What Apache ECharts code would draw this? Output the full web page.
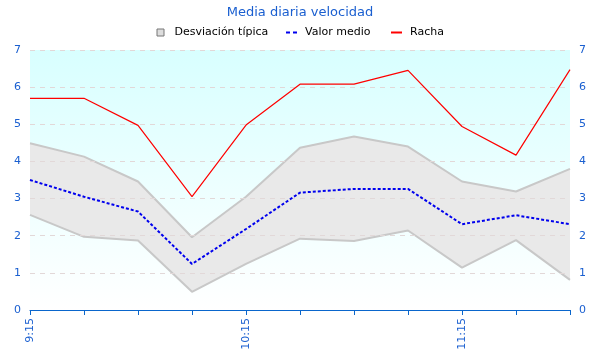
<!DOCTYPE html>
<html>
<head>
<meta charset="utf-8">
<script src="https://cdn.jsdelivr.net/npm/echarts@6/dist/echarts.min.js"></script>
<style>html,body{margin:0;padding:0;background:#fff}#c{width:600px;height:360px}</style>
</head>
<body>
<div id="c"></div>
<script>
const categories = ['9:15','9:30','9:45','10:00','10:15','10:30','10:45','11:00','11:15','11:30','11:45'];
const stdLower = [2.56, 1.97, 1.87, 0.49, 1.24, 1.92, 1.86, 2.14, 1.14, 1.88, 0.81];
const stdUpper = [4.49, 4.13, 3.46, 1.96, 3.05, 4.37, 4.67, 4.40, 3.46, 3.19, 3.80];
const meanValues = [3.50, 3.05, 2.65, 1.24, 2.18, 3.16, 3.26, 3.26, 2.31, 2.55, 2.31];
const gustValues = [5.70, 5.70, 4.97, 3.05, 4.98, 6.08, 6.08, 6.45, 4.94, 4.17, 6.47];
const yTicks = [0, 1, 2, 3, 4, 5, 6, 7];

const stdDiff = stdUpper.map((v, i) => +(v - stdLower[i]).toFixed(2));
const font = 'DejaVu Sans';
const blue = '#1a5fd0';

const chart = echarts.init(document.getElementById('c'), null, {renderer: 'canvas'});
const yAxisBase = {
  type: 'value', min: yTicks[0], max: yTicks[yTicks.length - 1], interval: 1, z: 3,
  axisLine: {show: false}, axisTick: {show: false},
  axisLabel: {color: blue, fontFamily: font, fontSize: 11, margin: 9},
  splitLine: {show: true, lineStyle: {color: '#e2d8d8', type: [5, 5], width: 1}}
};
const legendText = {fontFamily: font, fontSize: 11, color: '#000'};
chart.setOption({
  animation: false,
  title: {
    text: 'Media diaria velocidad', left: 'center', top: 1,
    textStyle: {color: blue, fontFamily: font, fontSize: 13, fontWeight: 'normal'}
  },
  legend: [
    {
      left: 156.5, top: 27, padding: 0, itemWidth: 18, itemHeight: 7, textStyle: legendText,
      data: [{name: 'Desviación típica', icon: 'path://M0,0h7v7h-7z'}],
      itemStyle: {color: '#dddddd', borderColor: '#777777', borderWidth: 1}
    },
    {
      left: 286, top: 27, padding: 0, itemWidth: 17, itemHeight: 2, textStyle: legendText,
      data: [{name: 'Valor medio', icon: 'path://M0,0h4v2h-4zM7,0h4v2h-4z'}],
      itemStyle: {color: '#0000ee', borderWidth: 0}
    },
    {
      left: 391, top: 27, padding: 0, itemWidth: 17, itemHeight: 2, textStyle: legendText,
      data: [{name: 'Racha', icon: 'path://M0,0h11v2h-11z'}],
      itemStyle: {color: '#ff0000', borderWidth: 0}
    }
  ],
  grid: {
    left: 30, right: 30, top: 50, bottom: 50, show: true, borderWidth: 0,
    backgroundColor: new echarts.graphic.LinearGradient(0, 0, 0, 1, [
      {offset: 0, color: '#d8ffff'}, {offset: 1, color: '#ffffff'}
    ])
  },
  xAxis: {
    type: 'category', data: categories, boundaryGap: false, z: 5,
    axisLine: {lineStyle: {color: '#0a66cc', width: 1}},
    axisTick: {show: true, interval: 0, length: 5, lineStyle: {color: '#0a66cc'}},
    axisLabel: {interval: 3, rotate: 90, color: blue, fontFamily: font, fontSize: 11, margin: 8},
    splitLine: {show: false}
  },
  yAxis: [Object.assign({position: 'left'}, yAxisBase), Object.assign({position: 'right'}, yAxisBase)],
  series: [
    {
      name: 'stdLow', type: 'line', data: stdLower, stack: 'std', symbol: 'none',
      lineStyle: {color: '#c8c8c8', width: 2}, z: 1, silent: true
    },
    {
      name: 'Desviación típica', type: 'line', data: stdDiff, stack: 'std', symbol: 'none',
      itemStyle: {color: '#dddddd'},
      lineStyle: {color: '#c8c8c8', width: 2},
      areaStyle: {color: '#e9e9e9', opacity: 1}, z: 1
    },
    {
      name: 'Valor medio', type: 'line', data: meanValues, symbol: 'none',
      itemStyle: {color: '#0000ee'},
      lineStyle: {color: '#0000ee', width: 2, type: [3, 2]}, z: 4
    },
    {
      name: 'Racha', type: 'line', data: gustValues, symbol: 'none',
      itemStyle: {color: '#ff0000'},
      lineStyle: {color: '#ff0000', width: 1.2}, z: 4
    }
  ]
});
</script>
</body>
</html>
